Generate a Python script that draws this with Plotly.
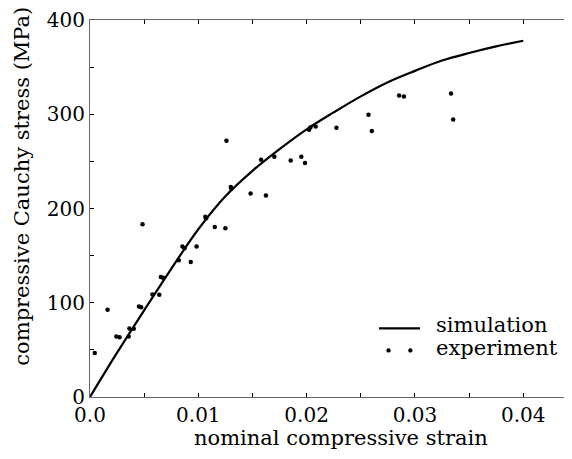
import plotly.graph_objects as go

# ---- data ----
sim_strain = [0.0, 0.0025, 0.005, 0.0075, 0.01, 0.0125, 0.015, 0.0175, 0.02,
              0.0225, 0.025, 0.0275, 0.03, 0.0325, 0.035, 0.0375, 0.04]
sim_stress = [0, 47, 92, 136, 178, 213, 240, 263, 284,
              302, 319, 334, 346, 357, 365, 372, 378]

exp_strain = [0.00044, 0.00162, 0.00243, 0.00273, 0.00357, 0.00364, 0.00404, 0.00452,
              0.00472, 0.00485, 0.00576, 0.0064, 0.00654, 0.00674, 0.00819, 0.00853,
              0.00873, 0.0093, 0.00984, 0.01065, 0.01072, 0.01152, 0.0125, 0.0126,
              0.013, 0.01304, 0.01483, 0.0158, 0.01624, 0.01702, 0.01853, 0.01951,
              0.01985, 0.02022, 0.02035, 0.02083, 0.02275, 0.02571, 0.02602, 0.02854,
              0.02898, 0.03333, 0.03353]
exp_stress = [46.6, 92.5, 64.3, 63.5, 64.3, 72.7, 72.4, 96.0,
              95.3, 183.2, 108.7, 108.4, 127.4, 126.4, 145.1, 159.6,
              157.8, 143.3, 159.6, 191.3, 189.6, 180.4, 179.0, 271.8,
              222.7, 221.0, 216.0, 251.7, 213.9, 254.9, 251.0, 254.9,
              248.2, 283.5, 286.0, 287.0, 285.6, 299.4, 282.1, 319.8,
              318.8, 322.0, 294.4]

x_tickvals = [0.0, 0.01, 0.02, 0.03, 0.04]
x_ticktext = ["0.0", "0.01", "0.02", "0.03", "0.04"]
y_tickvals = [0, 100, 200, 300, 400]
y_ticktext = ["0", "100", "200", "300", "400"]

legend_labels = ["simulation", "experiment"]

FONT = "DejaVu Serif"
FS = 21
TICK_FS = 20
AXC = "#666666"

fig = go.Figure()
fig.add_trace(go.Scatter(x=sim_strain, y=sim_stress, mode="lines",
                         line=dict(color="black", width=2.2, shape="spline", smoothing=1.0),
                         name=legend_labels[0], showlegend=False, hoverinfo="skip"))
fig.add_trace(go.Scatter(x=exp_strain, y=exp_stress, mode="markers",
                         marker=dict(color="black", size=4.5),
                         name=legend_labels[1], showlegend=False))

# page body adds an 8px offset, so the figure is 8px smaller than the window
fig.update_layout(
    width=564, height=451,
    margin=dict(l=82, r=0, t=12, b=62),
    paper_bgcolor="white", plot_bgcolor="white",
    font=dict(family=FONT, size=FS, color="black"),
)
fig.update_xaxes(range=[0, 0.0445], showgrid=False, zeroline=False, automargin=False,
                 showline=True, linecolor=AXC, linewidth=1, mirror="ticks",
                 ticks="inside", ticklen=4, tickcolor="black", tickwidth=1,
                 tickvals=x_tickvals, ticktext=x_ticktext,
                 minor=dict(dtick=0.005, tick0=0, ticks="inside", ticklen=4, tickcolor="black"),
                 tickfont=dict(family=FONT, size=TICK_FS), ticklabelstandoff=0)
fig.update_yaxes(range=[0, 400], showgrid=False, zeroline=False, automargin=False,
                 showline=True, linecolor=AXC, linewidth=1, mirror=False,
                 ticks="inside", ticklen=4, tickcolor="black", tickwidth=1,
                 tickvals=y_tickvals, ticktext=y_ticktext,
                 minor=dict(dtick=50, tick0=0, ticks="inside", ticklen=4, tickcolor="black"),
                 tickfont=dict(family=FONT, size=TICK_FS), ticklabelstandoff=0)

# axis titles
fig.add_annotation(text="nominal compressive strain", xref="paper", yref="paper",
                   x=0.521, y=-0.108, showarrow=False, xanchor="center", yanchor="middle",
                   font=dict(family=FONT, size=FS))
fig.add_annotation(text="compressive Cauchy stress (MPa)", xref="paper", yref="paper",
                   x=-0.1415, y=0.56, textangle=-90, showarrow=False,
                   xanchor="center", yanchor="middle", font=dict(family=FONT, size=FS))

# legend (drawn manually to mimic two-point marker legend)
fig.add_shape(type="line", xref="paper", yref="paper", x0=0.5996, x1=0.6846, y0=0.182, y1=0.182,
              line=dict(color="black", width=2.2))
for lx in (0.6193, 0.6647):
    fig.add_shape(type="circle", xref="paper", yref="paper",
                  x0=lx - 0.0045, x1=lx + 0.0045, y0=0.1236 - 0.0058, y1=0.1236 + 0.0058,
                  fillcolor="black", line=dict(width=0))
fig.add_annotation(text=legend_labels[0], xref="paper", yref="paper", x=0.714, y=0.19,
                   showarrow=False, xanchor="left", yanchor="middle", font=dict(family=FONT, size=FS))
fig.add_annotation(text=legend_labels[1], xref="paper", yref="paper", x=0.714, y=0.13,
                   showarrow=False, xanchor="left", yanchor="middle", font=dict(family=FONT, size=FS))

fig.write_html("out.html")
